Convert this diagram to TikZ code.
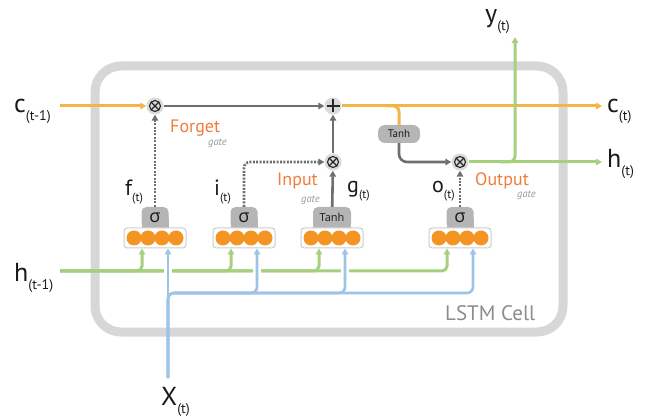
\documentclass[tikz,border=0pt]{standalone}
\usepackage{fontspec}
\setmainfont{PT Sans}
\newfontfamily\grk{Open Sans}
\usetikzlibrary{arrows.meta,calc}
\definecolor{cellorange}{HTML}{F6B447}
\definecolor{darkarrow}{HTML}{6E6E6E}
\definecolor{hgreen}{HTML}{A5D17F}
\definecolor{xblue}{HTML}{9DC3E6}
\definecolor{neuronorange}{HTML}{F39423}
\definecolor{gatetextorange}{HTML}{EF7D3C}
\definecolor{cellgray}{HTML}{D7D7D7}
\definecolor{opgray}{HTML}{DADADA}
\definecolor{gategray}{HTML}{B5B5B5}
\definecolor{layerborder}{HTML}{CCCCCC}
\definecolor{labgray}{HTML}{8C8C8C}
\definecolor{gatesmall}{HTML}{9A9A9A}
\definecolor{inkblack}{HTML}{1A1A1A}

\newcommand\biglab[2]{{\fontsize{26}{26}\selectfont #1}\raisebox{-8pt}{\fontsize{14}{14}\selectfont #2}}
\newcommand\smalllab[2]{{\fontsize{22}{22}\selectfont #1}\raisebox{-6pt}{\fontsize{12}{12}\selectfont #2}}
\newcommand\gatebox[4]{%
  \fill[gategray] ({#2-#3/2},217) rectangle ({#2+#3/2},230);
  \node[gate, minimum width=#3pt] (#1) at (#2,217.5) {#4};}
\newcommand\layerat[2]{%
  \node[layer] (#1) at (#2,238) {};
  \foreach \dx in {-21,-7,7,21} \fill[neuron] ($(#1)+(\dx,0)$) circle (7.5);}

\tikzset{
 arrowtip/.style={-{Triangle[length=6pt,width=6.5pt]}},
 orangeline/.style={draw=cellorange, line width=3pt},
 darkline/.style={draw=darkarrow, line width=2.6pt},
 dotline/.style={draw=darkarrow, line width=2.6pt, dash pattern=on 2pt off 1.4pt},
 greenline/.style={draw=hgreen, line width=3pt},
 blueline/.style={draw=xblue, line width=2.6pt},
 op/.style={circle, fill=opgray, minimum size=17pt, inner sep=0pt},
 opsym/.style={draw=black!85, line width=1.1pt},
 layer/.style={rectangle, rounded corners=3pt, draw=layerborder, line width=1pt, fill=white, minimum width=62pt, minimum height=20pt, inner sep=0pt},
 neuron/.style={fill=neuronorange},
 gate/.style={rectangle, rounded corners=5pt, fill=gategray, minimum height=21pt, inner sep=0pt, text=inkblack, font=\grk\fontsize{18}{18}\selectfont},
 lab/.style={inner sep=0pt, anchor=base west, text=inkblack},
 gatename/.style={text=gatetextorange, font=\fontsize{18}{18}\selectfont, inner sep=0pt, anchor=base west},
 gatesub/.style={text=gatesmall, font=\itshape\fontsize{10.5}{10.5}\selectfont, inner sep=0pt, anchor=base east},
 cellbox/.style={draw=cellgray, line width=9pt, rounded corners=26pt},
}

\begin{document}
\begin{tikzpicture}[x=1pt,y=-1pt]
\useasboundingbox (0,0) rectangle (647,419);
\draw[cellbox] (95,66) rectangle (563,332);

% operators
\node[op] (m1) at (155,106) {};
\node[op] (pl) at (333,106) {};
\node[op] (m2) at (333,162) {};
\node[op] (m3) at (460,162) {};
\foreach \n in {m1,m2,m3}{
  \draw[opsym] (\n) circle (5.5);
  \draw[opsym] ($(\n)+(-3.9,-3.9)$) -- ($(\n)+(3.9,3.9)$) ($(\n)+(-3.9,3.9)$) -- ($(\n)+(3.9,-3.9)$);
}
\draw[opsym] ($(pl)+(-6.5,0)$) -- ($(pl)+(6.5,0)$) ($(pl)+(0,-6.5)$) -- ($(pl)+(0,6.5)$);

% cell tanh
\node[gate, minimum width=42pt, minimum height=18pt, rounded corners=7pt, font=\fontsize{11}{11}\selectfont] (tc) at (399,134) {Tanh};

% gates
\gatebox{sf}{155}{27}{σ}
\gatebox{si}{244}{27}{σ}
\gatebox{sg}{332}{38}{\fontsize{11}{11}\selectfont Tanh}
\gatebox{so}{460}{27}{σ}

% layers
\layerat{L1}{155}
\layerat{L2}{244}
\layerat{L3}{332}
\layerat{L4}{460}

% coordinates
\coordinate (cin) at (60,106);
\coordinate (cout) at (602,106);
\coordinate (hout) at (602,162);
\coordinate (yout) at (515,37);
\coordinate (hin) at (60,271);
\coordinate (xin) at (168,378);
\coordinate (bus) at (168,293);

% cell state
\draw[orangeline, arrowtip] (cin) -- (m1);
\draw[darkline, arrowtip] (m1) -- (pl);
\draw[orangeline, arrowtip] (pl) -- (cout);
\draw[orangeline, rounded corners=6pt] ($(tc.north)+(-12,-19)$) -| (tc.north);
\draw[darkline, arrowtip, rounded corners=8pt] (tc.south) |- (m3);
\draw[greenline, arrowtip] (m3) -- (hout);
\draw[greenline, arrowtip, rounded corners=6pt] ($(m3)+(40,0)$) -| (yout);

% gate signals
\draw[dotline, arrowtip] (sf) -- (m1);
\draw[dotline, arrowtip, rounded corners=6pt] (si) |- (m2);
\draw[darkline, arrowtip] (sg) -- (m2);
\draw[darkline, arrowtip] (m2) -- (pl);
\draw[dotline, arrowtip] (so) -- (m3);

% inputs
\foreach \L in {L1,L2,L3,L4}
  \draw[greenline, arrowtip, rounded corners=5pt] (hin) -| ($(\L.south)+(-13,0)$);
\foreach \x in {168,257,345,473}
  \draw[white, line width=7.5pt] (\x,265) -- (\x,277);
\draw[blueline, arrowtip] (xin) -- ($(L1.south)+(13,0)$);
\foreach \L in {L2,L3,L4}
  \draw[blueline, arrowtip, rounded corners=6pt] (xin) -- (bus) -| ($(\L.south)+(13,0)$);

% labels
\node[lab] (lcin) at (14,113) {\biglab{c}{(t-1)}};
\node[lab] (lcout) at (607,113) {\biglab{c}{(t)}};
\node[lab] (lhout) at (607,168) {\biglab{h}{(t)}};
\node[lab] (lyout) at (485,23) {\biglab{y}{(t)}};
\node[lab] (lhin) at (14,282) {\biglab{h}{(t-1)}};
\node[lab] (lxin) at (161,405) {\biglab{X}{(t)}};
\node[lab] (lf) at (125,196) {\smalllab{f}{(t)}};
\node[lab] (li) at (214,196) {\smalllab{i}{(t)}};
\node[lab] (lg) at (347,193) {\smalllab{g}{(t)}};
\node[lab] (lo) at (432,193) {\smalllab{o}{(t)}};
\node[gatename] (nforget) at (170,133) {Forget};
\node[gatesub] (gforget) at (227,146) {gate};
\node[gatename] (ninput) at (277,186) {Input};
\node[gatesub] (ginput) at (320,203) {gate};
\node[gatename] (noutput) at (475,186) {Output};
\node[gatesub] (goutput) at (536,198) {gate};
\node[lab, text=labgray, font=\fontsize{21}{21}\selectfont] (lcell) at (445,320) {LSTM Cell};
\end{tikzpicture}
\end{document}
